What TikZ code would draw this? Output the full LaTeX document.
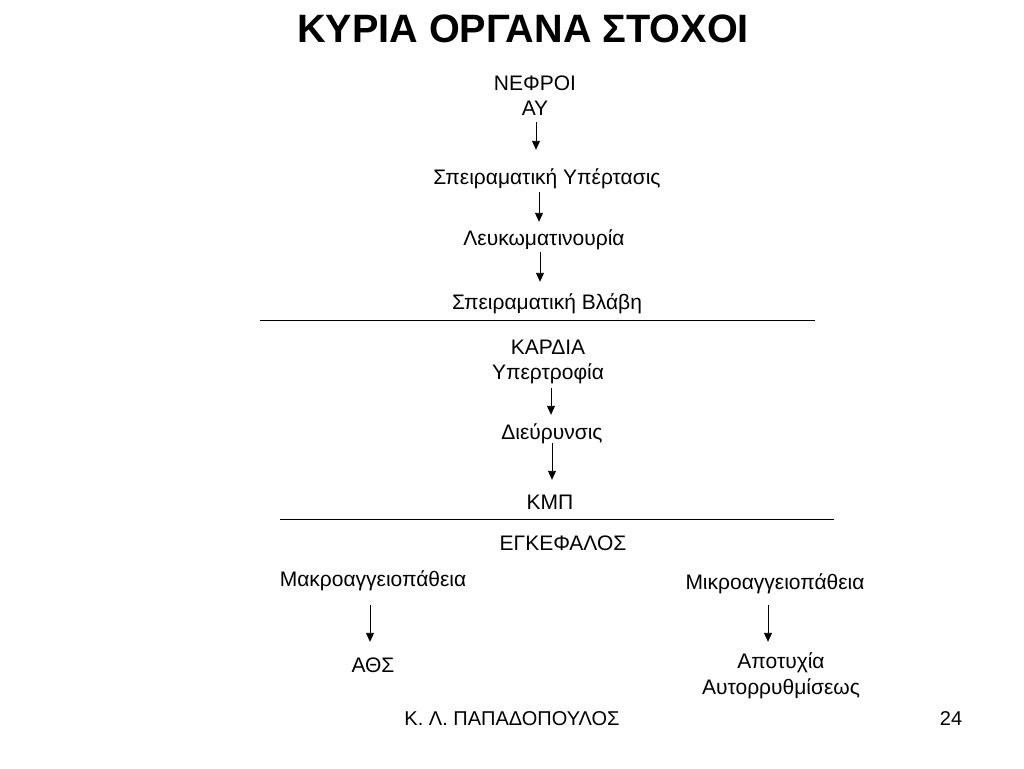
\documentclass[tikz,border=0pt]{standalone}
\usepackage{fontspec}
\setmainfont{Liberation Sans}
\usetikzlibrary{arrows.meta}
\tikzset{
	txt/.style={anchor=base,inner sep=0pt,text height=16pt,text depth=5pt,font=\fontsize{21}{25}\selectfont},
	arr/.style={-{Triangle[length=9pt,width=8pt]},line width=0.9pt}
}
\begin{document}
\begin{tikzpicture}[x=1pt,y=-1pt]
		\useasboundingbox (0,0) rectangle (1024,768);
		\node[anchor=base,inner sep=0pt,font=\bfseries\fontsize{39.6}{46}\selectfont] (title) at (523,42) {ΚΥΡΙΑ ΟΡΓΑΝΑ ΣΤΟΧΟΙ};
		\begin{scope}
		\node[txt] (nefroi) at (535,90) {ΝΕΦΡΟΙ};
		\node[txt] (ay) at (535,115) {ΑΥ};
		\node[txt] (sper) at (547,184) {Σπειραματική Υπέρτασις};
		\node[txt] (leuk) at (544,245) {Λευκωματινουρία};
		\node[txt] (vlavi) at (547,309) {Σπειραματική Βλάβη};
		\draw[arr] ([shift={(1,2)}]ay.south) -- ([shift={(-11,-18)}]sper.north);
		\draw[arr] ([shift={(-8,3)}]sper.south) -- ([shift={(-5,-7)}]leuk.north);
		\draw[arr] ([shift={(-4,2)}]leuk.south) -- ([shift={(-7,-11)}]vlavi.north);
		\draw[line width=0.9pt] (260,320) -- (815,320);
		\end{scope}
		\begin{scope}
		\node[txt] (kardia) at (548,354) {ΚΑΡΔΙΑ};
		\node[txt] (ypertr) at (548,379) {Υπερτροφία};
		\node[txt] (dieur) at (552,439) {Διεύρυνσις};
		\node[txt] (kmp) at (550,509) {ΚΜΠ};
		\draw[arr] ([shift={(3,4)}]ypertr.south) -- ([shift={(-1,-8)}]dieur.north);
		\draw[arr] ([shift={(0,-1)}]dieur.south) -- ([shift={(2,-13)}]kmp.north);
		\draw[line width=0.9pt] (280,519) -- (834,519);
		\end{scope}
		\begin{scope}
		\node[txt] (egkef) at (563,550) {ΕΓΚΕΦΑΛΟΣ};
		\node[txt] (makro) at (373,586) {Μακροαγγειοπάθεια};
		\node[txt] (ath) at (373,672) {ΑΘΣ};
		\node[txt] (mikro) at (775,589) {Μικροαγγειοπάθεια};
		\node[txt] (apot) at (781,668) {Αποτυχία};
		\node[txt] (autor) at (781,694) {Αυτορρυθμίσεως};
		\draw[arr] ([shift={(-3,14)}]makro.south) -- ([shift={(-3,-14)}]ath.north);
		\draw[arr] ([shift={(-7,11)}]mikro.south) -- ([shift={(-13,-10)}]apot.north);
		\end{scope}
		\node[txt,font=\fontsize{20}{24}\selectfont] (author) at (512,725) {Κ. Λ. ΠΑΠΑΔΟΠΟΥΛΟΣ};
		\node[txt,font=\fontsize{20}{24}\selectfont] (page) at (951,725) {24};
\end{tikzpicture}
\end{document}
